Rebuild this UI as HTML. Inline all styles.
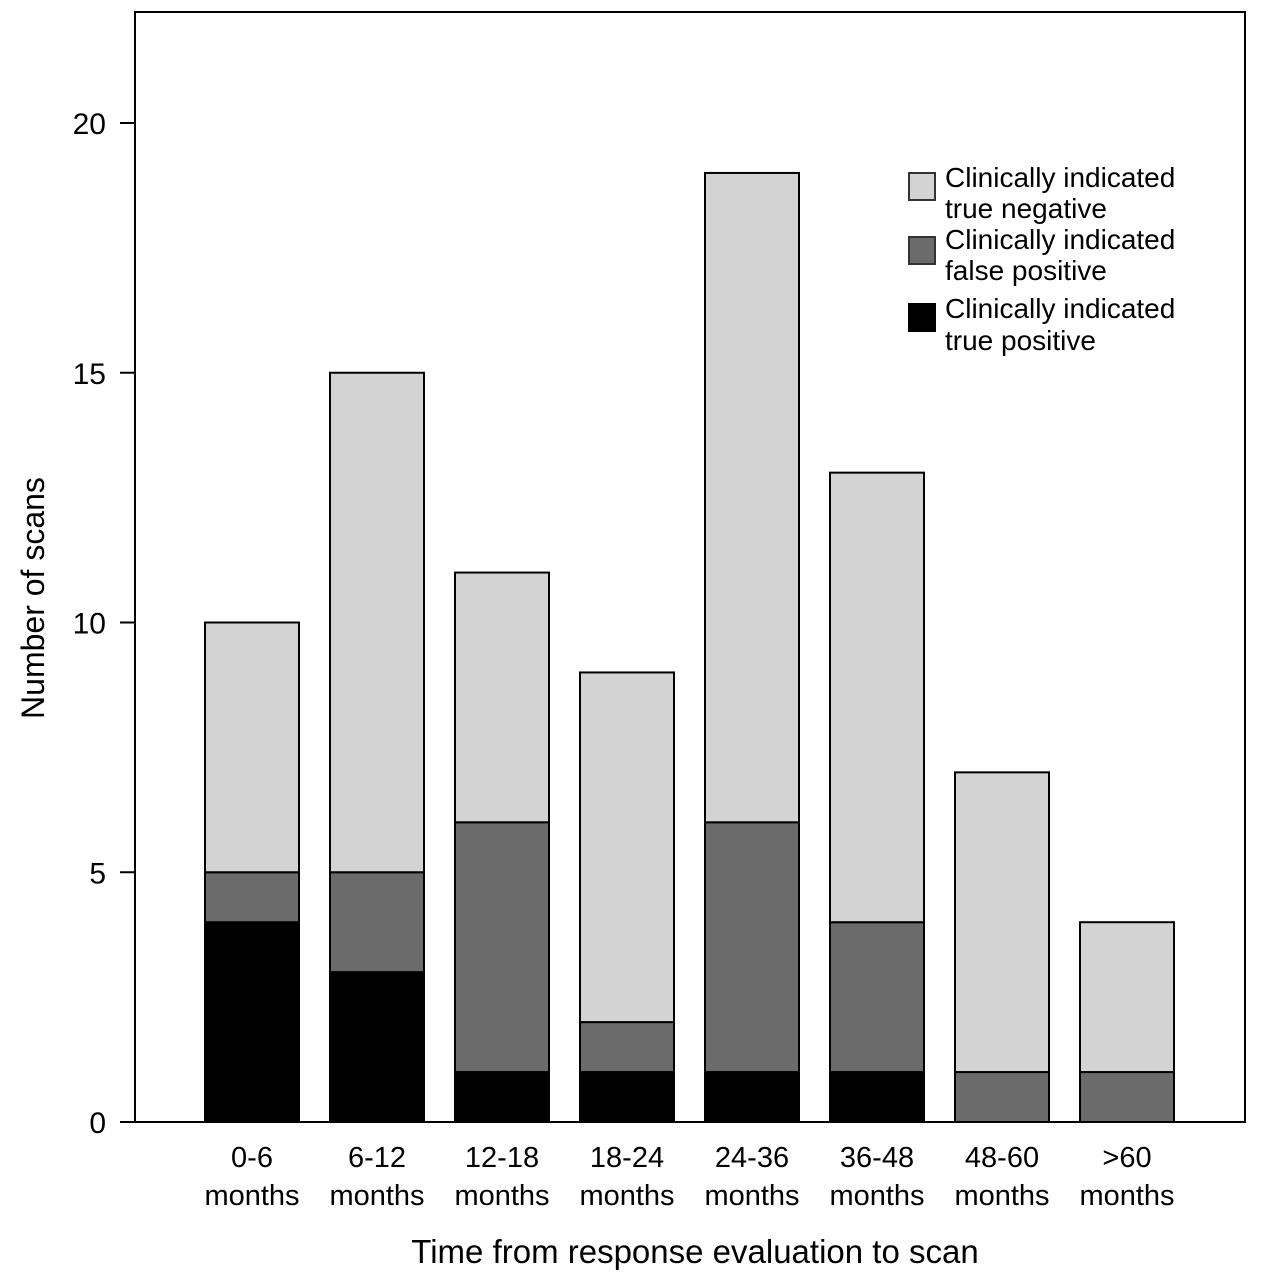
<!DOCTYPE html>
<html><head><meta charset="utf-8"><style>
body{margin:0;background:#fff;}
svg text{font-family:"Liberation Sans Narrow","Liberation Sans",sans-serif;fill:#000;}
</style></head><body>
<svg id="chart" width="1262" height="1280" viewBox="0 0 1262 1280" xmlns="http://www.w3.org/2000/svg">
<rect x="135" y="12" width="1110" height="1110" fill="none" stroke="#000" stroke-width="2"/>
<g id="bars"></g><g id="axes"></g>
<text transform="translate(44,598) rotate(-90)" text-anchor="middle" font-size="32">Number of scans</text>
<text x="695" y="1263" text-anchor="middle" font-size="33">Time from response evaluation to scan</text>
<g font-size="28">
<rect x="909" y="173" width="26" height="27" fill="#d3d3d3" stroke="#333" stroke-width="2"/>
<text x="945" y="187">Clinically indicated</text><text x="945" y="218">true negative</text>
<rect x="909" y="237" width="26" height="27" fill="#6b6b6b" stroke="#333" stroke-width="2"/>
<text x="945" y="249">Clinically indicated</text><text x="945" y="280">false positive</text>
<rect x="909" y="304" width="26" height="27" fill="#000" stroke="#000" stroke-width="2"/>
<text x="945" y="318">Clinically indicated</text><text x="945" y="350">true positive</text>
</g>
</svg>
<script>
const categories=["0-6","6-12","12-18","18-24","24-36","36-48","48-60",">60"];
const truePositive=[4,3,1,1,1,1,0,0];
const falsePositive=[1,2,5,1,5,3,1,1];
const trueNegative=[5,10,5,7,13,9,6,3];
const yTicks=[0,5,10,15,20];
const NS="http://www.w3.org/2000/svg";
const y=v=>1122-v*49.95;
const xc=i=>252+i*125;
const bw=94;
const bars=document.getElementById('bars'),axes=document.getElementById('axes');
function mk(tag,attrs,parent){const e=document.createElementNS(NS,tag);for(const k in attrs)e.setAttribute(k,attrs[k]);parent.appendChild(e);return e;}
const series=[[truePositive,"#000","true-positive"],[falsePositive,"#6b6b6b","false-positive"],[trueNegative,"#d3d3d3","true-negative"]];
categories.forEach((c,i)=>{
  let base=0;
  series.forEach(([arr,col,nm])=>{
    const v=arr[i];if(v<=0)return;
    const r=mk('rect',{x:xc(i)-bw/2,y:y(base+v),width:bw,height:y(base)-y(base+v),fill:col,stroke:"#000","stroke-width":2},bars);
    
    
    base+=v;
  });
  const t1=mk('text',{x:xc(i),y:1167,"text-anchor":"middle","font-size":29},axes);t1.textContent=c;
  
  
  const t2=mk('text',{x:xc(i),y:1205,"text-anchor":"middle","font-size":29},axes);t2.textContent="months";
  
  
});
yTicks.forEach(v=>{
  const l=mk('line',{x1:120,x2:135,y1:y(v),y2:y(v),stroke:"#000","stroke-width":2},axes);
  
  
  const t=mk('text',{x:106,y:y(v)+11,"text-anchor":"end","font-size":30},axes);t.textContent=v;
  
  
});
</script>
</body></html>
